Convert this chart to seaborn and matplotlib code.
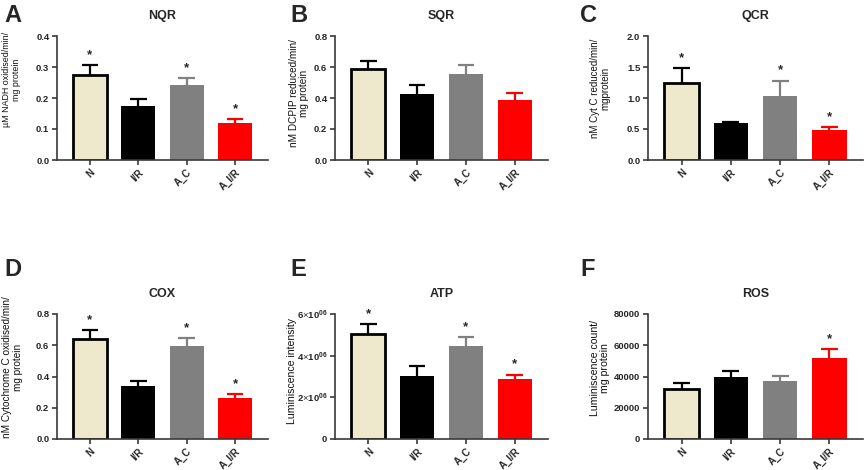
import matplotlib
matplotlib.use("Agg")
import matplotlib.pyplot as plt
import seaborn as sns
import pandas as pd
import numpy as np

sns.set_style("ticks")
plt.rcParams['font.family'] = ['Liberation Sans', 'DejaVu Sans']
plt.rcParams['mathtext.fontset'] = 'custom'
plt.rcParams['mathtext.rm'] = 'Liberation Sans'
plt.rcParams['mathtext.bf'] = 'Liberation Sans:bold'

groups = ["N", "I/R", "A_C", "A_I/R"]
colors = ["#EEE8CC", "#000000", "#808080", "#FF0000"]
err_colors = ["#000000", "#000000", "#808080", "#FF0000"]

nqr_mean = [0.275, 0.175, 0.243, 0.120]
nqr_err = [0.030, 0.022, 0.022, 0.012]
sqr_mean = [0.588, 0.425, 0.558, 0.390]
sqr_err = [0.052, 0.062, 0.055, 0.042]
qcr_mean = [1.25, 0.59, 1.04, 0.48]
qcr_err = [0.23, 0.02, 0.24, 0.05]
cox_mean = [0.640, 0.340, 0.598, 0.262]
cox_err = [0.058, 0.030, 0.048, 0.024]
atp_mean = [5.02e6, 3.04e6, 4.46e6, 2.90e6]
atp_err = [0.50e6, 0.47e6, 0.44e6, 0.19e6]
ros_mean = [32200, 39900, 37300, 52000]
ros_err = [3600, 3600, 3300, 5600]

panels = [
    dict(letter="A", title="NQR", mean=nqr_mean, err=nqr_err, ylim=0.4, ticks=[0.0, 0.1, 0.2, 0.3, 0.4],
         fmt="{:.1f}", ylabel="\u00b5M NADH oxidised/min/\nmg protein", stars=[1, 0, 1, 1],
         lx=-0.17, ly=0.65, lfs=6.4),
    dict(letter="B", title="SQR", mean=sqr_mean, err=sqr_err, ylim=0.8, ticks=[0.0, 0.2, 0.4, 0.6, 0.8],
         fmt="{:.1f}", ylabel="nM DCPIP reduced/min/\nmg protein", stars=[0, 0, 0, 0],
         lx=-0.12, ly=0.54, lfs=7.2),
    dict(letter="C", title="QCR", mean=qcr_mean, err=qcr_err, ylim=2.0, ticks=[0.0, 0.5, 1.0, 1.5, 2.0],
         fmt="{:.1f}", ylabel="nM Cyt C reduced/min/\nmgprotein", stars=[1, 0, 1, 1],
         lx=-0.175, ly=0.58, lfs=7.0),
    dict(letter="D", title="COX", mean=cox_mean, err=cox_err, ylim=0.8, ticks=[0.0, 0.2, 0.4, 0.6, 0.8],
         fmt="{:.1f}", ylabel="nM Cytochrome C oxidised/min/\nmg protein", stars=[1, 0, 1, 1],
         lx=-0.16, ly=0.576, lfs=7.2),
    dict(letter="E", title="ATP", mean=atp_mean, err=atp_err, ylim=6e6, ticks=[0, 2e6, 4e6, 6e6],
         fmt="sci", ylabel="Luminiscence intensity", stars=[1, 0, 1, 1],
         lx=-0.18, ly=0.54, lfs=7.6),
    dict(letter="F", title="ROS", mean=ros_mean, err=ros_err, ylim=80000, ticks=[0, 20000, 40000, 60000, 80000],
         fmt="{:d}", ylabel="Luminiscence count/\nmg protein", stars=[0, 0, 0, 1],
         lx=-0.175, ly=0.57, lfs=7.6),
]

W, H = 865, 470
fig = plt.figure(figsize=(W / 100, H / 100), dpi=100)

lefts = [57, 335, 648]
rights = [268, 548, 863]
tops = [36, 314]
bottoms = [160, 439]
letter_x = [4, 290, 580]
letter_y = [15, 270]

spine_c = "#3a3a3a"
for i, p in enumerate(panels):
    r, c = divmod(i, 3)
    l, rr = lefts[c], rights[c]
    t, b = tops[r], bottoms[r]
    ax = fig.add_axes([l / W, 1 - b / H, (rr - l) / W, (b - t) / H])
    df = pd.DataFrame({"group": groups, "value": p["mean"]})
    sns.barplot(data=df, x="group", y="value", hue="group", palette=colors, order=groups,
                hue_order=groups, legend=False, errorbar=None, width=0.7, ax=ax, saturation=1)
    for j, patch in enumerate(ax.patches):
        if j == 0:
            patch.set_edgecolor("black")
            patch.set_linewidth(2.0)
        else:
            patch.set_edgecolor(colors[j])
            patch.set_linewidth(0)
    xs = np.arange(len(groups))
    means = np.array(p["mean"])
    errs = np.array(p["err"])
    for j in range(len(groups)):
        ax.vlines(xs[j], means[j], means[j] + errs[j], color=err_colors[j], lw=1.6, zorder=3)
        ax.hlines(means[j] + errs[j], xs[j] - 0.17, xs[j] + 0.17, color=err_colors[j], lw=1.6, zorder=3)
        if p["stars"][j]:
            ax.annotate("*", (xs[j], means[j] + errs[j]), xytext=(0, 3), textcoords="offset points",
                        ha="center", va="bottom", fontsize=9.5, fontweight="bold")
    ax.set_xlim(-0.68, 3.68)
    ax.set_ylim(0, p["ylim"])
    ax.set_yticks(p["ticks"])
    if p["fmt"] == "sci":
        labs = ["0"] + [r"$\mathbf{%d}{\times}\mathbf{10^{06}}$" % int(v / 1e6) for v in p["ticks"][1:]]
    elif p["fmt"] == "{:d}":
        labs = [str(int(v)) for v in p["ticks"]]
    else:
        labs = [p["fmt"].format(v) for v in p["ticks"]]
    ax.set_yticklabels(labs, fontsize=6.8, fontweight="bold")
    ax.set_xticks(xs)
    ax.set_xticklabels(groups, rotation=45, ha="right", rotation_mode="anchor",
                       fontsize=7, fontweight="bold")
    ax.set_xlabel("")
    ax.set_ylabel(p["ylabel"], fontsize=p["lfs"], fontweight="normal", linespacing=1.1, color="#111111")
    ax.yaxis.set_label_coords(p["lx"], p["ly"])
    ax.set_title(p["title"], fontsize=9, fontweight="bold", pad=12)
    sns.despine(ax=ax)
    for s in ["left", "bottom"]:
        ax.spines[s].set_color(spine_c)
        ax.spines[s].set_linewidth(1.2)
    ax.tick_params(axis="both", direction="out", length=3.5, width=1.2, color=spine_c, pad=2)
    fig.text(letter_x[c] / W, 1 - letter_y[r] / H, p["letter"], fontsize=17, fontweight="bold",
             ha="left", va="center")

fig.savefig("out.png", dpi=100)
